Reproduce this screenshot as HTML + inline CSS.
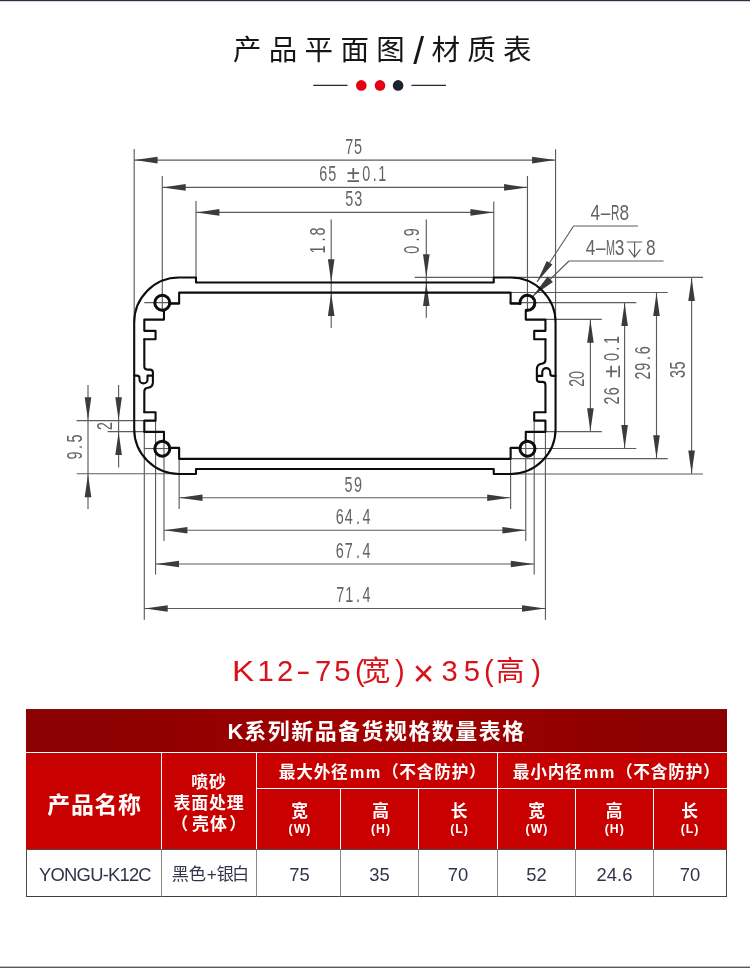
<!DOCTYPE html>
<html lang="zh-CN">
<head>
<meta charset="utf-8">
<title>K12-75×35 产品平面图 / 材质表</title>
<style>
html,body{margin:0;padding:0;background:#fff}
body{position:relative;width:750px;height:968px;overflow:hidden;font-family:"Liberation Sans","Noto Sans CJK SC",sans-serif;color:#111}
.g{display:inline-block;width:1em;line-height:1;text-align:center;white-space:nowrap;font-family:"Liberation Sans","Noto Sans CJK SC",sans-serif}
.topbar{position:absolute;left:0;top:0;width:750px;height:1px;background:#263141;border-bottom:1px solid #d6d8dc}
.botbar{position:absolute;left:0;top:966px;width:750px;height:1px;background:#59595e;border-top:1px solid #bdbdc0}
.title{will-change:transform;position:absolute;left:232.5px;top:31.3px;margin:0;font-weight:normal;font-size:28.5px;line-height:38px;white-space:nowrap;color:#161616}
.title .g{margin-right:7.3px}
.title .sl{display:inline-block;width:19.5px;text-align:center;font-size:39px;line-height:30px;position:relative;top:4.4px;left:-3.2px}
.deco{position:absolute;left:300px;top:75px}
.dwg{position:absolute;left:0;top:0;will-change:transform}
.model{will-change:transform;position:absolute;left:232.85px;top:650px;margin:0;font-weight:normal;font-size:29.2px;line-height:38px;white-space:nowrap;color:#d8121a}
.model span{display:inline-block;text-align:center}
.model .g{font-size:28.5px;margin:0 -7px}
.model .x{display:inline-block;font-size:37px;line-height:1;position:relative;top:4.5px}
table.spec{will-change:transform;position:absolute;left:26px;top:709px;width:701px;border-collapse:separate;border-spacing:0;table-layout:fixed}
table.spec th,table.spec td{padding:0;margin:0;text-align:center;vertical-align:middle;box-sizing:border-box;overflow:hidden;white-space:nowrap}
table.spec{color:#fff;font-weight:bold}
table.spec .cap th{height:44px;font-size:21.9px;padding-top:2px;background:linear-gradient(90deg,#8b0000 0%,#8b0000 12%,#a40000 50%,#8b0000 88%,#8b0000 100%);border-bottom:1px solid #fff;border-top:1px solid #7c1414}
table.spec .cap .g{margin-right:1.55px}
table.spec .cap .k{margin-right:1px}
table.spec .h th{background:#c80000;border-right:1px solid #fff}
table.spec .h th:last-child{border-right:0}
table.spec .h1 th{height:36px;border-bottom:1px solid #fff;font-size:16.7px;text-align:left;padding-top:5px}
table.spec .h1 th .g{margin-right:0.75px}
table.spec .h1 th .mm{letter-spacing:1.5px;margin-left:1.2px;font-size:16.4px}
table.spec .h1 th.name{font-size:22.9px;border-bottom:0;text-align:center;padding-top:8px;padding-left:2px}
table.spec .h1 th.name .g{margin-right:0.7px}
table.spec .h1 th.surf{font-size:16.9px;line-height:20.7px;border-bottom:0;text-align:center;padding-top:7px}
table.spec .h1 th.surf .g{margin-right:0.9px}
table.spec .h1 th.surf .pl{margin-left:-3.4px;margin-right:4.1px}
table.spec .h1 th.surf .pr{margin-left:1.6px;margin-right:-2.7px}
table.spec .h2 th{height:60px;font-size:16.7px;line-height:19px;padding-top:0;padding-left:2px}
table.spec .h2 small{display:block;font-size:12.3px;line-height:14px;letter-spacing:1px;padding-left:1px;margin-top:1px}
table.spec .d td{height:48px;background:#fff;color:#30344a;font-weight:normal;font-size:18.4px;border-right:1px solid #8a8a8a;border-bottom:1px solid #3f3f3f;border-top:1px solid #584848;padding-top:3px}
table.spec .d td:first-child{border-left:1px solid #4a4a4a;letter-spacing:-0.78px;padding-left:2px}
table.spec .d td:last-child{border-right:1px solid #4a4a4a}
table.spec .d td.fin{font-size:17.2px;color:#33364a;text-align:left;padding-left:9.1px}
table.spec .d td.fin span{display:inline-block;text-align:center}
table.spec .d td.fin .g{margin:0 -3px}
table.spec .h2 th:nth-child(n+4){padding-left:0}
table.spec .h2 th:nth-child(5){padding-right:0.6px}
table.spec .h2 th:nth-child(6){padding-right:2px}
table.spec .d td:nth-child(3){padding-left:2px}
</style>
</head>
<body>
<div class="topbar"></div>
<h1 class="title"><span class="g">产</span><span class="g">品</span><span class="g">平</span><span class="g">面</span><span class="g">图</span><span class="sl">/</span><span class="g">材</span><span class="g">质</span><span class="g">表</span></h1>
<svg class="deco" width="160" height="22" viewBox="300 75 160 22" aria-hidden="true">
<path d="M313.3 85.4H347.5M411.5 85.4H446" stroke="#1f2733" stroke-width="1.2" fill="none"/>
<circle cx="361.3" cy="85.4" r="5.3" fill="#e60012"/><circle cx="380" cy="85.4" r="5.3" fill="#e60012"/><circle cx="398.1" cy="85.4" r="5.3" fill="#1c2430"/>
</svg>
<svg class="dwg" width="750" height="640" viewBox="0 0 750 640" role="img" aria-label="K12 enclosure cross-section drawing, 75 x 35 mm">
<g fill="none" stroke="#5c5c5c" stroke-width="1.15">
<path d="M134.2 149L134.2 322.41"/>
<path d="M555.55 149.3L555.55 322.41"/>
<path d="M162.29 176L162.29 311.76"/>
<path d="M527.46 176L527.46 311.76"/>
<path d="M196 201L196 277.5"/>
<path d="M493.75 201.4L493.75 277.5"/>
<path d="M134.2 160.1L555.55 160.1"/>
<path d="M162.29 187.4L527.46 187.4"/>
<path d="M196 212.4L493.75 212.4"/>
<path d="M331.2 219.4L331.2 328"/>
<path d="M426.3 219.4L426.3 317.8"/>
<path d="M414.7 277.4L493.75 277.4"/>
<path d="M510.61 277.4L703 277.4"/>
<path d="M510.61 473.99L703 473.99"/>
<path d="M510.61 292.46L667.8 292.46"/>
<path d="M510.61 458.63L667.8 458.63"/>
<path d="M509.46 302.56L636.3 302.56"/>
<path d="M509.46 448.53L636.3 448.53"/>
<path d="M545.44 319.41L601.8 319.41"/>
<path d="M534.2 431.58L601.8 431.58"/>
<path d="M691.6 277.5L691.6 473.99"/>
<path d="M656.5 292.46L656.5 458.63"/>
<path d="M624.6 302.56L624.6 448.53"/>
<path d="M590.4 319.41L590.4 431.58"/>
<path d="M144.31 431.88L144.31 619.8"/>
<path d="M545.44 431.88L545.44 619.8"/>
<path d="M144.31 608.5L545.44 608.5"/>
<path d="M155.55 420.66L155.55 574.6"/>
<path d="M534.2 420.66L534.2 574.6"/>
<path d="M155.55 564L534.2 564"/>
<path d="M163.98 440.73L163.98 541"/>
<path d="M525.77 440.73L525.77 541"/>
<path d="M163.98 530.2L525.77 530.2"/>
<path d="M179.14 447.88L179.14 509"/>
<path d="M510.61 447.88L510.61 509"/>
<path d="M179.14 497.7L510.61 497.7"/>
<path d="M76.6 420.56L155.55 420.56"/>
<path d="M76.6 473.79L179.14 473.79"/>
<path d="M107.6 431.68L163.98 431.68"/>
<path d="M88 385L88 509"/>
<path d="M118.6 385L118.6 467.6"/>
<path d="M144.29 302.56L179.29 302.56"/>
<path d="M144.29 448.53L172.29 448.53"/>
<path d="M638 226L573.6 226"/>
<path d="M573.6 226L537 282"/>
<path d="M663.6 261L569 261"/>
<path d="M569 261L533 296"/>
<path d="M626.8 242H642.2M634.6 242V256.6M628.8 249.4L634.6 257L640.4 249.4" stroke-width="1.15"/>
</g>
<path fill="#3b3b3b" d="M134.6 160.1L157.6 163.4L157.6 156.8ZM555.1 160.1L532.1 156.8L532.1 163.4ZM162.7 187.4L185.7 190.7L185.7 184.1ZM527.1 187.4L504.1 184.1L504.1 190.7ZM196.4 212.4L219.4 215.7L219.4 209.1ZM493.4 212.4L470.4 209.1L470.4 215.7ZM331.2 282.2L334.5 259.2L327.9 259.2ZM331.2 293.0L327.9 316.0L334.5 316.0ZM426.3 277.2L429.6 254.2L423.0 254.2ZM426.3 282.9L423.0 305.9L429.6 305.9ZM691.6 277.9L688.3 300.9L694.9 300.9ZM691.6 473.6L694.9 450.6L688.3 450.6ZM656.5 292.9L653.2 315.9L659.8 315.9ZM656.5 458.2L659.8 435.2L653.2 435.2ZM624.6 303.0L621.3 326.0L627.9 326.0ZM624.6 448.1L627.9 425.1L621.3 425.1ZM590.4 319.8L587.1 342.8L593.7 342.8ZM590.4 431.2L593.7 408.2L587.1 408.2ZM144.7 608.5L167.7 611.8L167.7 605.2ZM545.0 608.5L522.0 605.2L522.0 611.8ZM156.0 564.0L179.0 567.3L179.0 560.7ZM533.8 564.0L510.8 560.7L510.8 567.3ZM164.4 530.2L187.4 533.5L187.4 526.9ZM525.4 530.2L502.4 526.9L502.4 533.5ZM179.5 497.7L202.5 501.0L202.5 494.4ZM510.2 497.7L487.2 494.4L487.2 501.0ZM88.0 420.3L91.3 397.3L84.7 397.3ZM88.0 474.2L84.7 497.2L91.3 497.2ZM118.6 420.3L121.9 397.3L115.3 397.3ZM118.6 432.1L115.3 455.1L121.9 455.1ZM537.0 282.0L552.4 264.6L546.7 260.9ZM533.0 296.0L552.9 282.0L547.6 276.5Z"/>
<g fill="none" stroke="#0d0d0d" stroke-linejoin="round" stroke-linecap="round">
<path stroke-width="2.1" d="M179.14 277.5H196.0V282.55H493.75V277.5H510.61A44.9 44.9 0 0 1 555.55 322.41V429.08A44.9 44.9 0 0 1 510.61 473.99H493.75V468.94H196.0V473.99H179.14A44.9 44.9 0 0 1 134.2 429.08V322.41A44.9 44.9 0 0 1 179.14 277.5Z"/>
<path stroke-width="2.1" d="M144.31 339.25H155.55V330.83H144.31V319.61H163.98V310.0M169.5 303.61H179.14V292.66H510.61V303.61H520.3M525.77 310.0V319.61H545.44V330.83H534.2V339.25H545.44M144.31 412.24H155.55V420.66H144.31V431.88H163.98V441.5M169.5 447.88H179.14V458.83H510.61V447.88H520.3M525.77 441.5V431.88H545.44V420.66H534.2V412.24H545.44"/>
<path stroke-width="2.1" d="M144.31 339.25V366.6Q144.31 369.6 147.3 369.6H149.9Q152.9 369.6 152.9 372.6V375.6H147.5V379.4A4 4 0 0 1 139.5 379.4V378.1Q139.5 375.6 136.9 375.6H134.2M152.9 375.6V382.1Q152.9 387.4 147.9 387.8Q144.31 388.1 144.31 391.4V412.24"/>
<path stroke-width="2.1" transform="rotate(180 344.88 375.75)" d="M144.31 339.25V366.6Q144.31 369.6 147.3 369.6H149.9Q152.9 369.6 152.9 372.6V375.6H147.5V379.4A4 4 0 0 1 139.5 379.4V378.1Q139.5 375.6 136.9 375.6H134.2M152.9 375.6V382.1Q152.9 387.4 147.9 387.8Q144.31 388.1 144.31 391.4V412.24"/>
<g stroke-width="3">
<circle cx="162.29" cy="302.76" r="7.5"/>
<circle cx="162.29" cy="448.73" r="7.5"/>
<circle cx="527.46" cy="448.73" r="7.5"/>
<path d="M519.96 303.56A7.5 7.5 0 1 1 526.86 310.26"/>
</g></g>
<g fill="#636363" font-family="'Liberation Sans',sans-serif">
<text transform="translate(0 154.1) scale(0.68 1)" x="507.8 520.6" y="0" font-size="21.2">75</text>
<text transform="translate(0 180.6) scale(0.68 1)" x="469.5 482.7 532.8 548.2 556.3" y="0" font-size="21.2">650.1</text>
<text transform="translate(0 181.9) scale(1.12 1.16)" x="309.5" y="0" font-size="21.2">±</text>
<text transform="translate(0 206.1) scale(0.68 1)" x="507.7 520.8" y="0" font-size="21.2">53</text>
<text transform="translate(0 492) scale(0.68 1)" x="506.8 520.6" y="0" font-size="21.2">59</text>
<text transform="translate(0 523.9) scale(0.68 1)" x="493.9 507.0 523.5 533.1" y="0" font-size="21.2">64.4</text>
<text transform="translate(0 557.7) scale(0.68 1)" x="493.9 506.9 523.5 533.1" y="0" font-size="21.2">67.4</text>
<text transform="translate(0 601.9) scale(0.68 1)" x="494.5 507.9 523.5 533.1" y="0" font-size="21.2">71.4</text>
<text transform="translate(324.5 0) rotate(-90) scale(0.68 1)" x="-372.9 -355.3 -346.5" y="0" font-size="21.2">1.8</text>
<text transform="translate(419.4 0) rotate(-90) scale(0.68 1)" x="-373.1 -355.3 -347.4" y="0" font-size="21.2">0.9</text>
<text transform="translate(81.5 0) rotate(-90) scale(0.68 1)" x="-675.7 -660.3 -650.7" y="0" font-size="21.2">9.5</text>
<text transform="translate(112.3 0) rotate(-90) scale(0.68 1)" x="-632.4" y="0" font-size="21.2">2</text>
<text transform="translate(584.2 0) rotate(-90) scale(0.68 1)" x="-568.7 -557.5" y="0" font-size="21.2">20</text>
<text transform="translate(619 0) rotate(-90) scale(0.68 1)" x="-594.9 -581.3 -530.9 -515.7 -506.0" y="0" font-size="21.2">260.1</text>
<text transform="translate(620.2 0) rotate(-90) scale(1.12 1.16)" x="-337.5" y="0" font-size="21.2">±</text>
<text transform="translate(650.4 0) rotate(-90) scale(0.68 1)" x="-558.1 -545.2 -529.4 -521.1" y="0" font-size="21.2">29.6</text>
<text transform="translate(685.3 0) rotate(-90) scale(0.68 1)" x="-556.0 -543.4" y="0" font-size="21.2">35</text>
<text transform="translate(0 219.6) scale(0.8 1)" x="738.2 750.9 774.5" y="0" font-size="21.6">4–8</text>
<text transform="translate(0 219.6) scale(0.54 1)" x="1131.6" y="0" font-size="21.6">R</text>
<text transform="translate(0 255.4) scale(0.8 1)" x="732.2 744.9 768.3 807.5" y="0" font-size="21.6">4–38</text>
<text transform="translate(0 255.4) scale(0.5 1)" x="1211.8" y="0" font-size="21.6">M</text>
</g>
</svg>
<h2 class="model"><span style="width:22.10px;transform:scaleX(1.14);position:relative;left:-1.0px">K</span><span style="width:20.90px">1</span><span style="width:18.50px">2</span><span style="width:18.65px;transform:scaleX(1.5)">-</span><span style="width:20.00px">7</span><span style="width:18.45px">5</span><span style="width:16.75px">(</span><span style="width:19.70px;position:relative;left:-2.2px"><span class="g">宽</span></span><span style="width:23.75px">)</span><span style="width:25.85px;position:relative;left:-1.0px"><span class="x">×</span></span><span style="width:24.20px">3</span><span style="width:19.15px;position:relative;left:0.6px">5</span><span style="width:19.05px;position:relative;left:-1.6px">(</span><span style="width:23.10px;position:relative;left:-1.2px"><span class="g">高</span></span><span style="width:25.00px;position:relative;left:0.5px">)</span></h2>
<table class="spec">
<colgroup><col style="width:136px"><col style="width:95px"><col style="width:84px"><col style="width:78px"><col style="width:79px"><col style="width:78px"><col style="width:78px"><col style="width:73px"></colgroup>
<thead>
<tr class="cap"><th colspan="8"><span class="k">K</span><span class="g">系</span><span class="g">列</span><span class="g">新</span><span class="g">品</span><span class="g">备</span><span class="g">货</span><span class="g">规</span><span class="g">格</span><span class="g">数</span><span class="g">量</span><span class="g">表</span><span class="g">格</span></th></tr>
<tr class="h h1"><th class="name" rowspan="2"><span class="g">产</span><span class="g">品</span><span class="g">名</span><span class="g">称</span></th><th class="surf" rowspan="2"><span class="g">喷</span><span class="g">砂</span><br><span class="g">表</span><span class="g">面</span><span class="g">处</span><span class="g">理</span><br><span class="g pl">（</span><span class="g">壳</span><span class="g">体</span><span class="g pr">）</span></th><th colspan="3" style="padding-left:21.8px"><span class="g">最</span><span class="g">大</span><span class="g">外</span><span class="g">径</span><span class="mm">mm</span><span class="g pl">（</span><span class="g">不</span><span class="g">含</span><span class="g">防</span><span class="g">护</span><span class="g pr">）</span></th><th colspan="3" style="padding-left:14.8px"><span class="g">最</span><span class="g">小</span><span class="g">内</span><span class="g">径</span><span class="mm">mm</span><span class="g pl">（</span><span class="g">不</span><span class="g">含</span><span class="g">防</span><span class="g">护</span><span class="g pr">）</span></th></tr>
<tr class="h h2"><th><span class="g">宽</span><small>(W)</small></th><th><span class="g">高</span><small>(H)</small></th><th><span class="g">长</span><small>(L)</small></th><th><span class="g">宽</span><small>(W)</small></th><th><span class="g">高</span><small>(H)</small></th><th><span class="g">长</span><small>(L)</small></th></tr>
</thead>
<tbody>
<tr class="d"><td>YONGU-K12C</td><td class="fin"><span style="width:18.4px"><span class="g">黑</span></span><span style="width:15.7px"><span class="g">色</span></span><span style="width:13.1px">+</span><span style="width:14.4px"><span class="g">银</span></span><span style="width:15.8px"><span class="g">白</span></span></td><td>75</td><td>35</td><td>70</td><td>52</td><td>24.6</td><td>70</td></tr>
</tbody>
</table>
<div class="botbar"></div>

</body>
</html>
